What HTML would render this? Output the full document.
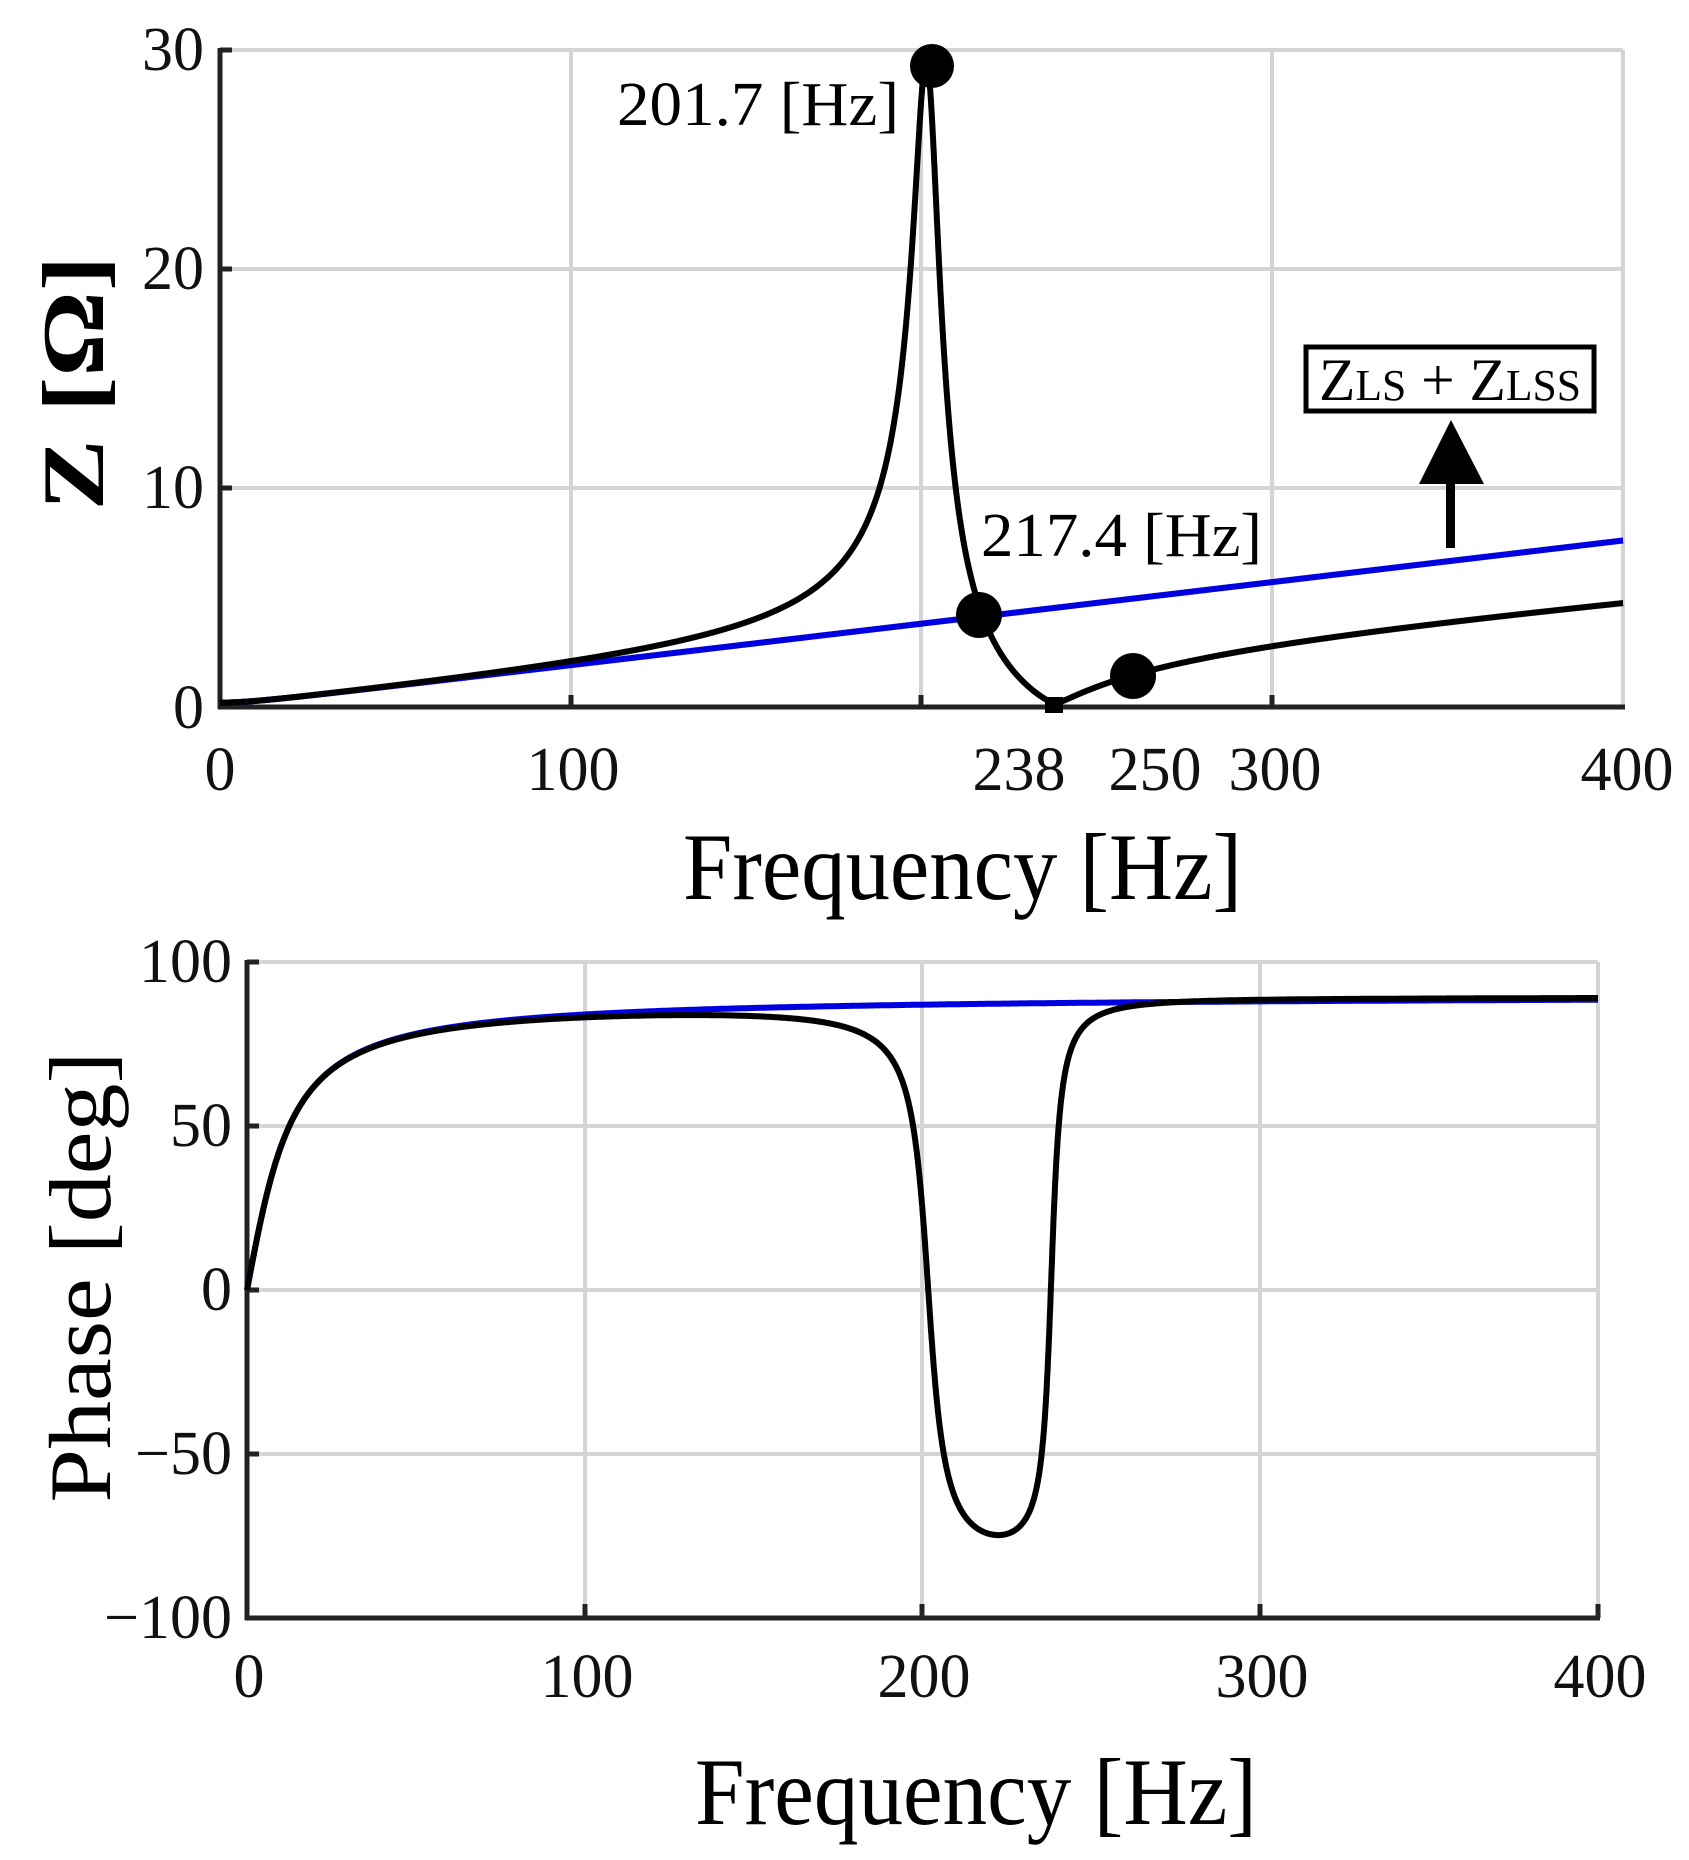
<!DOCTYPE html>
<html><head><meta charset="utf-8"><style>
html,body{margin:0;padding:0;background:#fff;}
svg{display:block;font-family:"Liberation Serif",serif;}
</style></head><body>
<svg id="s" width="1689" height="1860" viewBox="0 0 1689 1860" xmlns="http://www.w3.org/2000/svg">
<rect width="1689" height="1860" fill="#fff"/>
<g stroke="#d4d4d4" stroke-width="4" fill="none">
<line x1="571" y1="50" x2="571" y2="707"/>
<line x1="921" y1="50" x2="921" y2="707"/>
<line x1="1272" y1="50" x2="1272" y2="707"/>
<line x1="1623" y1="50" x2="1623" y2="707"/>
<line x1="220" y1="50" x2="1623" y2="50"/>
<line x1="220" y1="269" x2="1623" y2="269"/>
<line x1="220" y1="488" x2="1623" y2="488"/>
</g>
<g stroke="#222" stroke-width="5"><line x1="220" y1="48" x2="220" y2="709"/><line x1="218" y1="707" x2="1625" y2="707"/></g>
<g stroke="#222" stroke-width="5"><line x1="220" y1="50" x2="232" y2="50"/><line x1="220" y1="269" x2="232" y2="269"/><line x1="220" y1="488" x2="232" y2="488"/>
<line x1="571" y1="707" x2="571" y2="695"/><line x1="921" y1="707" x2="921" y2="695"/><line x1="1272" y1="707" x2="1272" y2="695"/></g>
<path id="zb" fill="none" stroke="#0000e0" stroke-width="6"/>
<path id="zk" fill="none" stroke="#000" stroke-width="6"/>
<circle cx="932" cy="66" r="22"/>
<circle cx="979" cy="615" r="23"/>
<circle cx="1133" cy="676" r="23"/>
<rect x="1045" y="697" width="18" height="16"/>
<g font-size="62" fill="#111" text-anchor="end">
<text x="204" y="70">30</text><text x="204" y="289">20</text><text x="204" y="508">10</text><text x="204" y="728">0</text>
</g>
<g font-size="62" fill="#111" text-anchor="middle">
<text x="220" y="790">0</text><text x="573" y="790">100</text><text x="1019" y="790">238</text><text x="1155" y="790">250</text><text x="1275" y="790">300</text><text x="1627" y="790">400</text>
</g>
<text x="617" y="125" font-size="62" textLength="282" lengthAdjust="spacingAndGlyphs">201.7 [Hz]</text>
<text x="981" y="556" font-size="62" textLength="281" lengthAdjust="spacingAndGlyphs">217.4 [Hz]</text>
<rect x="1306" y="347" width="288" height="64" fill="#fff" stroke="#000" stroke-width="5"/>
<text x="1319" y="400" font-size="60" textLength="262" lengthAdjust="spacingAndGlyphs">Z<tspan font-size="44">LS</tspan> + Z<tspan font-size="44">LSS</tspan></text>
<polygon points="1451,420 1419,484 1484,484"/>
<rect x="1446" y="482" width="9" height="66"/>
<text x="683" y="899" font-size="95" textLength="559" lengthAdjust="spacingAndGlyphs">Frequency [Hz]</text>
<text transform="translate(103,383) rotate(-90)" font-size="88" font-weight="bold" text-anchor="middle" textLength="255" lengthAdjust="spacingAndGlyphs">Z [Ω]</text>

<g stroke="#d4d4d4" stroke-width="4" fill="none">
<line x1="585" y1="962" x2="585" y2="1618"/>
<line x1="922" y1="962" x2="922" y2="1618"/>
<line x1="1260" y1="962" x2="1260" y2="1618"/>
<line x1="1598" y1="962" x2="1598" y2="1618"/>
<line x1="247" y1="962" x2="1598" y2="962"/>
<line x1="247" y1="1126" x2="1598" y2="1126"/>
<line x1="247" y1="1290" x2="1598" y2="1290"/>
<line x1="247" y1="1454" x2="1598" y2="1454"/>
</g>
<g stroke="#222" stroke-width="5"><line x1="247" y1="960" x2="247" y2="1620"/><line x1="245" y1="1618" x2="1600" y2="1618"/>
<line x1="247" y1="962" x2="259" y2="962"/><line x1="247" y1="1126" x2="259" y2="1126"/><line x1="247" y1="1290" x2="259" y2="1290"/><line x1="247" y1="1454" x2="259" y2="1454"/>
<line x1="585" y1="1618" x2="585" y2="1604"/><line x1="922" y1="1618" x2="922" y2="1604"/><line x1="1260" y1="1618" x2="1260" y2="1604"/><line x1="1598" y1="1618" x2="1598" y2="1604"/></g>
<path id="pb" fill="none" stroke="#0000e0" stroke-width="6"/>
<path id="pk" fill="none" stroke="#000" stroke-width="6"/>
<g font-size="62" fill="#111" text-anchor="end">
<text x="232" y="982">100</text><text x="232" y="1146">50</text><text x="232" y="1310">0</text><text x="232" y="1474">−50</text><text x="232" y="1638">−100</text>
</g>
<g font-size="62" fill="#111" text-anchor="middle">
<text x="249" y="1697">0</text><text x="587" y="1697">100</text><text x="924" y="1697">200</text><text x="1262" y="1697">300</text><text x="1600" y="1697">400</text>
</g>
<text x="695" y="1824" font-size="95" textLength="562" lengthAdjust="spacingAndGlyphs">Frequency [Hz]</text>
<text transform="translate(110,1277) rotate(-90)" font-size="88" text-anchor="middle" textLength="451" lengthAdjust="spacingAndGlyphs">Phase [deg]</text>
</svg>
<script>
var R=0.2,k=0.0137,fz=238,fp=201.7,gp=7.5;
function Zk(f){var N=fz*fz-f*f,Dr=fp*fp-f*f,Di=f*gp,m=Dr*Dr+Di*Di;
 var re=R+k*f*N*Di/m, im=k*f*N*Dr/m; return [re,im];}
function Zb(f){return [R,0.019*f];}
var zb="",zk="",pb="",pk="";
for(var i=0;i<=4000;i++){var f=i*0.1;
 var a=Zk(f),b=Zb(f);
 var mk=Math.min(Math.hypot(a[0],a[1]),29.2),mb=Math.hypot(b[0],b[1]);
 var X1=220+f*3.5075,X2=247+f*3.3775;
 zk+=(i?"L":"M")+X1.toFixed(1)+" "+(707-mk*21.9).toFixed(1);
 zb+=(i?"L":"M")+X1.toFixed(1)+" "+(707-mb*21.9).toFixed(1);
 var phk=Math.atan2(a[1],a[0])*180/Math.PI,phb=Math.atan2(b[1],b[0])*180/Math.PI;
 pk+=(i?"L":"M")+X2.toFixed(1)+" "+(1290-phk*3.28).toFixed(1);
 pb+=(i?"L":"M")+X2.toFixed(1)+" "+(1290-phb*3.28).toFixed(1);
}
document.getElementById("zk").setAttribute("d",zk);
document.getElementById("zb").setAttribute("d",zb);
document.getElementById("pk").setAttribute("d",pk);
document.getElementById("pb").setAttribute("d",pb);
</script>
</body></html>
